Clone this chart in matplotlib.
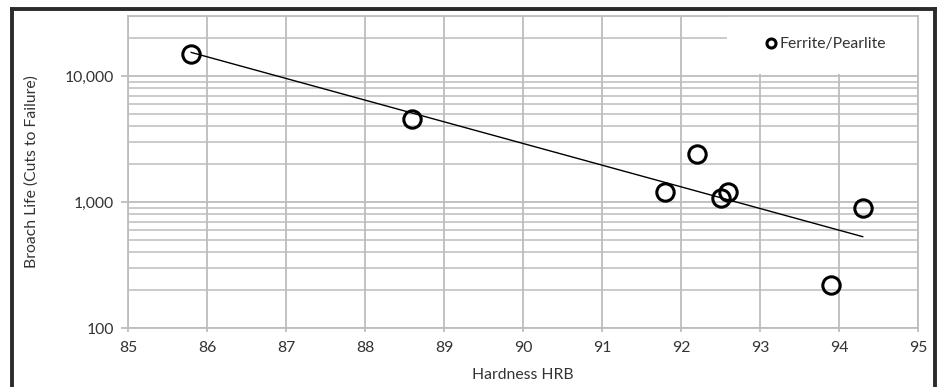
import numpy as np
import matplotlib.pyplot as plt
from matplotlib.ticker import FuncFormatter, LogLocator, NullFormatter
from matplotlib.patches import Rectangle
from matplotlib.lines import Line2D

plt.rcParams['font.family'] = ['Lato', 'DejaVu Sans']

# broach life vs. hardness, ferrite/pearlite microstructure
hardness = [85.8, 88.6, 91.8, 92.2, 92.5, 92.6, 93.9, 94.3]
broach_life = [15000, 4600, 1200, 2400, 1080, 1200, 220, 900]
series_name = "Ferrite/Pearlite"
x_ticks = [85, 86, 87, 88, 89, 90, 91, 92, 93, 94, 95]
y_ticks = [100, 1000, 10000]

grid_col = "#bdbdbd"
text_col = "#333333"
fs = 11.3

fig = plt.figure(figsize=(9.41, 3.87), dpi=100)
ax = fig.add_axes([128/941, 1 - 328/387, (918-128)/941, (328-16)/387])

# exponential trendline (least squares on log10)
x = np.array(hardness)
y = np.array(broach_life)
k, b = np.polyfit(x, np.log10(y), 1)
xs = np.linspace(x.min(), x.max(), 50)
ax.plot(xs, 10 ** (k * xs + b), color="black", lw=1.0, zorder=3)

ax.plot(x, y, "o", ms=12.5, mfc="none", mec="black", mew=2.2, zorder=4)

ax.set_yscale("log")
ax.set_xlim(85, 95)
ax.set_ylim(100, 30000)
ax.set_xticks(x_ticks)
ax.set_yticks(y_ticks)
ax.yaxis.set_major_formatter(FuncFormatter(lambda v, p: f"{v:,.0f}"))
ax.yaxis.set_minor_locator(LogLocator(base=10, subs=np.arange(2, 10)))
ax.yaxis.set_minor_formatter(NullFormatter())

ax.grid(True, which="major", color=grid_col, lw=1.3, zorder=0)
ax.grid(True, which="minor", axis="y", color=grid_col, lw=1.1, zorder=0)
ax.set_axisbelow(True)

for s in ax.spines.values():
    s.set_color(grid_col)
    s.set_linewidth(1.3)
    s.set_zorder(2.5)

ax.tick_params(which="major", length=5, width=1.3, color=grid_col,
               labelsize=fs, labelcolor=text_col)
ax.tick_params(axis="x", which="major", length=3, pad=6)
ax.tick_params(axis="y", which="major", pad=5)
ax.tick_params(axis="y", which="minor", length=0)

ax.set_xlabel("Hardness HRB", fontsize=fs, color=text_col, labelpad=10)
ax.set_ylabel("Broach Life (Cuts to Failure)", fontsize=fs, color=text_col, labelpad=19)

# legend sits on a white patch over the grid
ax.add_patch(Rectangle((0.758, 0.815), 0.242, 0.185, transform=ax.transAxes,
                       facecolor="white", edgecolor="none", zorder=2))
handle = Line2D([], [], marker="o", ls="none", ms=6.5, mfc="none", mec="black", mew=2.2)
ax.legend([handle], [series_name], loc="center right", bbox_to_anchor=(0.978, 0.91),
          frameon=False, fontsize=fs, handlelength=0.6, handletextpad=0.3,
          labelcolor=text_col)

# outer chart frame
frame_kw = dict(color="#2b2b2b", lw=2.8, transform=fig.transFigure, clip_on=False)
fig.add_artist(Line2D([12/941, 12/941], [0, 1 - 9/387], **frame_kw))
fig.add_artist(Line2D([12/941, 935/941], [1 - 9/387, 1 - 9/387], **frame_kw))
fig.add_artist(Line2D([935/941, 935/941], [0, 1 - 9/387], **frame_kw))

fig.savefig("out.png", dpi=100)
